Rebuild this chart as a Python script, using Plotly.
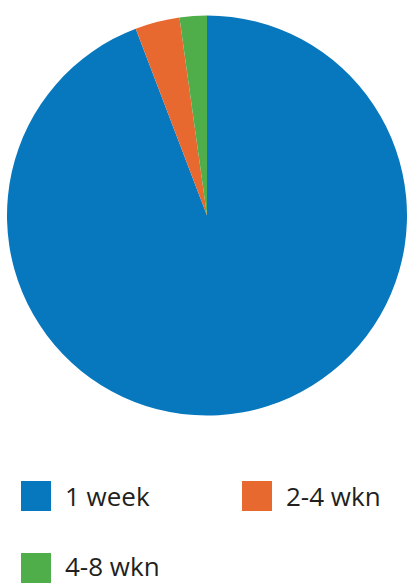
import plotly.graph_objects as go

categories = ["1 week", "2-4 wkn", "4-8 wkn"]
values = [94.2, 3.6, 2.2]
colors = ["#0878BE", "#E8692F", "#4FAE49"]

W, H = 407, 583

fig = go.Figure()
fig.add_trace(go.Pie(
    labels=categories, values=values, sort=False, direction="clockwise",
    rotation=0, marker=dict(colors=colors, line=dict(width=0)),
    textinfo="none", hoverinfo="label+percent", showlegend=False,
    domain=dict(x=[7/W, 1.0], y=[(H-416)/H, (H-15)/H]),
))

# manual legend (large square swatches)
legend_pos = [(21, 481), (242, 481), (21, 553)]  # top-left of swatch, px
for (x0, y0), name, c in zip(legend_pos, categories, colors):
    fig.add_shape(type="rect", xref="paper", yref="paper",
                  x0=x0/W, x1=(x0+30)/W, y0=(H-y0-30)/H, y1=(H-y0)/H,
                  fillcolor=c, line=dict(width=0))
    fig.add_annotation(xref="paper", yref="paper", x=(x0+43)/W, y=(H-y0-15)/H,
                       text=name, showarrow=False, xanchor="left", yanchor="middle",
                       borderpad=0, yshift=2 if y0 > 500 else 0,
                       font=dict(family="Open Sans", size=26, color="#231F20"))

fig.update_layout(width=W, height=H, margin=dict(l=0, r=0, t=0, b=0),
                  paper_bgcolor="white", plot_bgcolor="white")
fig.write_html("out.html")
